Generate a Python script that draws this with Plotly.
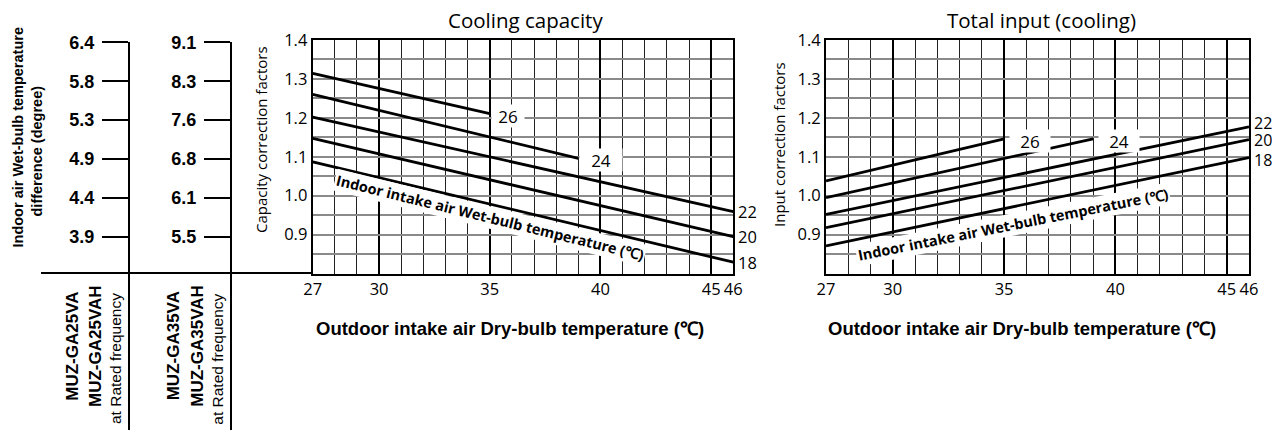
import plotly.graph_objects as go

W, H = 1276, 430

# ---------------- data ----------------
wb_labels = ["26", "24", "22", "20", "18"]          # indoor wet-bulb temperature (deg C)
x_start = [27, 27, 27, 27, 27]
cool_x_end = [35, 39, 46, 46, 46]
cool_y_start = [1.314, 1.260, 1.202, 1.147, 1.087]
cool_y_end = [1.211, 1.096, 0.959, 0.895, 0.829]

inp_x_end = [35, 39, 46, 46, 46]
inp_y_start = [1.038, 0.995, 0.952, 0.918, 0.871]
inp_y_end = [1.146, 1.146, 1.177, 1.144, 1.098]

x_tickvals = [27, 30, 35, 40, 45, 46]
x_ticktext = ["27", "30", "35", "40", "45", "46"]
y_tickvals = [0.8, 0.9, 1.0, 1.1, 1.2, 1.3, 1.4]
y_ticktext = ["", "0.9", "1.0", "1.1", "1.2", "1.3", "1.4"]

wbdiff_pos = [1.4, 1.3, 1.2, 1.1, 1.0, 0.9]
wbdiff_25 = ["6.4", "5.8", "5.3", "4.9", "4.4", "3.9"]
wbdiff_35 = ["9.1", "8.3", "7.6", "6.8", "6.1", "5.5"]

# ---------------- helpers ----------------
def px(x):
    return x / W

def py(y):
    return 1 - y / H

CF = "Open Sans"
AF = "Liberation Sans"

fig = go.Figure()

def add_lines(xa, ya, xe, ys, ye):
    for i in range(len(wb_labels)):
        fig.add_trace(go.Scatter(
            x=[x_start[i], xe[i]], y=[ys[i], ye[i]], mode="lines",
            line=dict(color="black", width=2.8), xaxis=xa, yaxis=ya,
            showlegend=False, hoverinfo="skip"))

add_lines("x", "y", cool_x_end, cool_y_start, cool_y_end)
add_lines("x2", "y2", inp_x_end, inp_y_start, inp_y_end)
fig.add_trace(go.Scatter(x=[None], y=[None], xaxis="x3", yaxis="y3", showlegend=False))
fig.add_trace(go.Scatter(x=[None], y=[None], xaxis="x3", yaxis="y4", showlegend=False))

def xax(dom, anchor):
    return dict(domain=dom, anchor=anchor, range=[27, 46], tickmode="array",
                tickvals=x_tickvals, ticktext=x_ticktext, ticks="",
                showgrid=True, gridcolor="black", gridwidth=2,
                minor=dict(tickvals=list(range(27, 47)), showgrid=True,
                           gridcolor="#222", gridwidth=1, ticks=""),
                showline=True, linecolor="black", linewidth=2, mirror=True,
                zeroline=False, automargin=False,
                tickfont=dict(family=CF, size=16.5, color="black"))

def yax(dom, anchor):
    return dict(domain=dom, anchor=anchor, range=[0.8, 1.4], tickmode="array",
                tickvals=y_tickvals, ticktext=y_ticktext, ticks="",
                showgrid=True, gridcolor="#8a8a8a", gridwidth=1.5,
                minor=dict(tickvals=[0.85, 0.95, 1.05, 1.15, 1.25, 1.35],
                           showgrid=True, gridcolor="#8a8a8a", gridwidth=1.5, ticks=""),
                showline=True, linecolor="black", linewidth=2, mirror=True,
                zeroline=False, automargin=False,
                tickfont=dict(family=CF, size=16.5, color="black"))

ydom = [py(273.5), py(40)]
left_range = [1.4 - (430 - 42.3) / 388.9, 1.4]
fig.update_layout(
    width=W, height=H, margin=dict(l=0, r=0, t=0, b=0, pad=0, autoexpand=False),
    paper_bgcolor="white", plot_bgcolor="white", showlegend=False,
    xaxis=xax([px(312.7), px(733.3)], "y"),
    yaxis=yax(ydom, "x"),
    xaxis2=xax([px(826), px(1249)], "y2"),
    yaxis2=yax(ydom, "x2"),
    xaxis3=dict(domain=[px(41), px(312.7)], anchor="free", position=py(273.3),
                range=[0, 1], showline=True, linecolor="black", linewidth=2,
                showgrid=False, zeroline=False, showticklabels=False, ticks="",
                automargin=False),
    yaxis3=dict(domain=[0, py(42.3)], anchor="free", position=px(129), side="left",
                range=left_range, tickmode="array", tickvals=wbdiff_pos, ticktext=wbdiff_25,
                ticks="outside", ticklen=26, tickwidth=2, tickcolor="black",
                showline=True, linecolor="black", linewidth=2, showgrid=False, zeroline=False,
                automargin=False,
                tickfont=dict(family=AF, size=18, color="black", weight="bold"),
                ticklabelstandoff=4),
    yaxis4=dict(domain=[0, py(42.3)], anchor="free", position=px(231), side="left",
                overlaying="y3",
                range=left_range, tickmode="array", tickvals=wbdiff_pos, ticktext=wbdiff_35,
                ticks="outside", ticklen=26, tickwidth=2, tickcolor="black",
                showline=True, linecolor="black", linewidth=2, showgrid=False, zeroline=False,
                automargin=False,
                tickfont=dict(family=AF, size=18, color="black", weight="bold"),
                ticklabelstandoff=4),
)

ann = []

# curve labels
def curve_labels(xr, yr, xe, ye, box_w, inside_shift, out_shift, out_size):
    for i, lab in enumerate(wb_labels):
        if xe[i] == 46:
            ann.append(dict(x=xe[i], y=ye[i], xref=xr, yref=yr, text=lab, showarrow=False,
                            xanchor="left", yanchor="middle", xshift=3, yshift=out_shift[i],
                            height=out_size, valign="middle",
                            font=dict(family=CF, size=out_size, color="black")))
        else:
            ann.append(dict(x=xe[i], y=ye[i], xref=xr, yref=yr, text=lab, showarrow=False,
                            xanchor="left", yanchor="middle", xshift=inside_shift, yshift=-2,
                            width=box_w[i], height=20, bgcolor="white", borderpad=1,
                            font=dict(family=CF, size=17, color="black")))

curve_labels("x", "y", cool_x_end, cool_y_end, [30, 40], 1, [0, 0, 0, 0, 0], 16.5)
curve_labels("x2", "y2", inp_x_end, inp_y_end, [38, 38], 5, [0, 0, 4, 0, -2], 16)

# rotated in-plot labels
lab = "Indoor intake air Wet-bulb temperature (℃)"
ann.append(dict(x=35.0, y=0.944, xref="x", yref="y", text=lab, showarrow=False,
                xanchor="center", yanchor="middle",
                textangle=13.8, bgcolor="white", borderpad=1,
                font=dict(family=CF, size=14.5, color="black", weight="bold")))
ann.append(dict(x=35.4, y=0.926, xref="x2", yref="y2", text=lab, showarrow=False,
                xanchor="center", yanchor="middle",
                textangle=-11.3, bgcolor="white", borderpad=1,
                font=dict(family=CF, size=14.5, color="black", weight="bold")))

def pann(xp, yp, text, size, family, bold=False, angle=0):
    f = dict(family=family, size=size, color="black")
    if bold:
        f["weight"] = "bold"
    ann.append(dict(x=px(xp), y=py(yp), xref="paper", yref="paper", text=text,
                    showarrow=False, xanchor="center", yanchor="middle",
                    textangle=angle, font=f))

# titles
pann(525.5, 20, "Cooling capacity", 20.5, CF)
pann(1041.5, 20, "Total input (cooling)", 20.5, CF)

# axis titles
pann(261, 140, "Capacity correction factors", 15, CF, angle=-90)
pann(779, 145, "Input correction factors", 15, CF, angle=-90)
xt = "Outdoor intake air Dry-bulb temperature (℃)"
pann(510, 328, xt, 18.5, AF, bold=True)
pann(1022, 328, xt, 18.5, AF, bold=True)

# left panel texts
pann(17, 137.5, "Indoor air Wet-bulb temperature", 14.5, AF, bold=True, angle=-90)
pann(36, 151.5, "difference (degree)", 14.5, AF, bold=True, angle=-90)

models = [(["MUZ-GA25VA", "MUZ-GA25VAH"], [71.7, 95, 115]),
          (["MUZ-GA35VA", "MUZ-GA35VAH"], [173.3, 196.7, 216.7])]
for names, xs in models:
    for j, nm in enumerate(names):
        pann(xs[j], 346, nm, 17, AF, bold=True, angle=-90)
    pann(xs[2], 359, "at Rated frequency", 15.5, AF, angle=-90)

fig.update_layout(annotations=ann)
fig.write_html("out.html", config={"displayModeBar": False},
               post_script="document.body.style.margin='0';document.body.style.padding='0';")
